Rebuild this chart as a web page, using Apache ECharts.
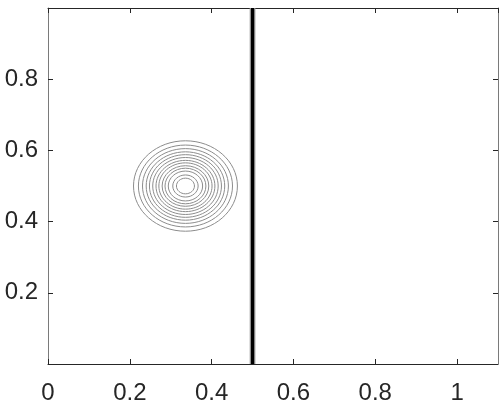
<!DOCTYPE html>
<html>
<head>
<meta charset="utf-8">
<script src="https://cdn.jsdelivr.net/npm/echarts@6/dist/echarts.min.js"></script>
<style>
  html, body { margin: 0; padding: 0; background: #fff; }
  #chart { width: 504px; height: 402px; }
</style>
</head>
<body>
<div id="chart"></div>
<script>
// contour rings around the blob (centre + radii)
const blobCenter = [0.336, 0.5];
const blobRadii = [0.127, 0.115, 0.105, 0.096, 0.088, 0.080, 0.072, 0.065, 0.057, 0.050, 0.042, 0.031, 0.022];
// densely packed contour lines near x = 0.5
const wallCore = [0.4975, 0.4985, 0.4995, 0.5005, 0.5015, 0.5025];
const wallEdge = [0.4945, 0.496, 0.504, 0.5055];
const xRange = [0, 1.1];
const yRange = [0, 1];

const chart = echarts.init(document.getElementById('chart'));

const labelFont = {
  color: '#262626',
  fontFamily: 'Liberation Sans, Arial, sans-serif',
  fontSize: 24
};

function axisCommon(lineColor) {
  return {
    axisLine: { show: true, onZero: false, lineStyle: { color: lineColor, width: 1 } },
    axisTick: { show: true, inside: true, length: 5, lineStyle: { color: '#262626' } },
    splitLine: { show: false }
  };
}

// circle in data units -> ellipse in pixels
function renderRing(params, api) {
  const c = api.coord([api.value(0), api.value(1)]);
  const s = api.size([api.value(2), api.value(2)]);
  return {
    type: 'ellipse',
    shape: { cx: c[0], cy: c[1], rx: s[0], ry: s[1] },
    style: { fill: 'none', stroke: '#8c8c8c', lineWidth: 1 }
  };
}

function makeWall(color) {
  return function (params, api) {
    const x = api.value(0);
    const p0 = api.coord([x, yRange[0]]);
    const p1 = api.coord([x, yRange[1]]);
    return {
      type: 'line',
      shape: { x1: p0[0], y1: p0[1], x2: p1[0], y2: p1[1] },
      style: { stroke: color, lineWidth: 1.2 }
    };
  };
}

chart.setOption({
  animation: false,
  grid: { left: 48, right: 6, top: 8, bottom: 38, outerBoundsMode: 'none', containLabel: false },
  xAxis: [
    Object.assign(axisCommon('#262626'), {
      type: 'value', min: xRange[0], max: xRange[1], interval: 0.2,
      axisLabel: Object.assign({ margin: 17, showMaxLabel: false }, labelFont)
    }),
    Object.assign(axisCommon('#262626'), {
      type: 'value', position: 'top', min: xRange[0], max: xRange[1], interval: 0.2,
      axisLabel: { show: false }
    })
  ],
  yAxis: [
    Object.assign(axisCommon('#7a7a7a'), {
      type: 'value', min: yRange[0], max: yRange[1], interval: 0.2,
      axisLabel: Object.assign({ margin: 10, showMinLabel: false, showMaxLabel: false }, labelFont)
    }),
    Object.assign(axisCommon('#7a7a7a'), {
      type: 'value', position: 'right', min: yRange[0], max: yRange[1], interval: 0.2,
      axisLabel: { show: false }
    })
  ],
  series: [
    {
      type: 'custom',
      renderItem: renderRing,
      clip: true,
      data: blobRadii.map(r => [blobCenter[0], blobCenter[1], r])
    },
    {
      type: 'custom',
      renderItem: makeWall('#9a9a9a'),
      clip: true,
      data: wallEdge.map(x => [x])
    },
    {
      type: 'custom',
      renderItem: makeWall('#000000'),
      clip: true,
      data: wallCore.map(x => [x])
    }
  ]
});
</script>
</body>
</html>
